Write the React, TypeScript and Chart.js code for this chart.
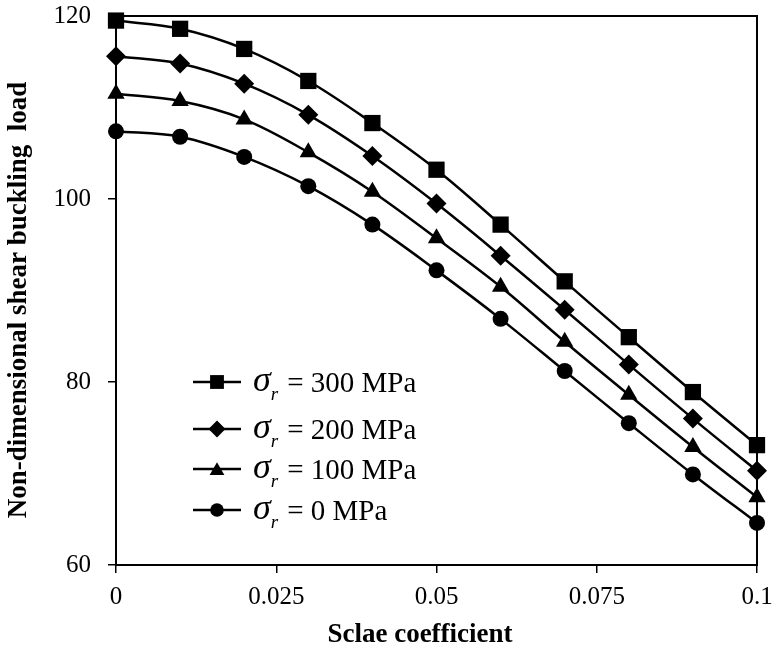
import React, { useEffect, useRef } from "react";
import { Chart, registerables } from "chart.js";

Chart.register(...registerables);

const xValues = [0, 0.01, 0.02, 0.03, 0.04, 0.05, 0.06, 0.07, 0.08, 0.09, 0.1];
const s300 = [119.5, 118.6, 116.4, 112.9, 108.3, 103.2, 97.2, 91.0, 84.9, 78.9, 73.1];
const s200 = [115.6, 114.8, 112.6, 109.2, 104.7, 99.5, 93.8, 87.9, 81.9, 76.0, 70.3];
const s100 = [111.5, 110.7, 108.7, 105.1, 100.8, 95.7, 90.4, 84.4, 78.6, 72.9, 67.4];
const s0 = [107.4, 106.8, 104.6, 101.4, 97.2, 92.2, 86.9, 81.2, 75.5, 69.9, 64.6];

const seriesNames = ["300 MPa", "200 MPa", "100 MPa", "0 MPa"];
const seriesStyles = ["rect", "rectRot", "triangle", "circle"];
const seriesRadius = [11.5, 10, 10, 8];

const xTickValues = [0, 0.025, 0.05, 0.075, 0.1];
const xTickLabels = ["0", "0.025", "0.05", "0.075", "0.1"];
const yTickValues = [60, 80, 100, 120];
const yTickLabels = ["60", "80", "100", "120"];

const xTitle = "Sclae coefficient";
const yTitle = "Non-dimensional shear buckling  load";

const FONT = "'Liberation Serif', 'Times New Roman', serif";

function drawMarker(ctx: CanvasRenderingContext2D, style: string, x: number, y: number, r: number) {
  ctx.beginPath();
  if (style === "rect") {
    const s = Math.SQRT1_2 * r;
    ctx.rect(x - s, y - s, 2 * s, 2 * s);
  } else if (style === "rectRot") {
    ctx.moveTo(x - r, y);
    ctx.lineTo(x, y - r);
    ctx.lineTo(x + r, y);
    ctx.lineTo(x, y + r);
    ctx.closePath();
  } else if (style === "triangle") {
    for (let i = 0; i < 3; i++) {
      const ang = -Math.PI / 2 + (i * 2 * Math.PI) / 3;
      const px = x + Math.cos(ang) * r;
      const py = y + Math.sin(ang) * r + r * 0.2;
      if (i === 0) ctx.moveTo(px, py);
      else ctx.lineTo(px, py);
    }
    ctx.closePath();
  } else {
    ctx.arc(x, y, r, 0, Math.PI * 2);
  }
  ctx.fill();
}

const framePlugin = {
  id: "frame",
  afterDraw(chart: any) {
    const { ctx, chartArea } = chart;
    ctx.save();
    ctx.strokeStyle = "#000";
    ctx.lineWidth = 2;
    ctx.strokeRect(chartArea.left, chartArea.top, chartArea.right - chartArea.left, chartArea.bottom - chartArea.top);
    ctx.restore();
  },
};

const titlesPlugin = {
  id: "axisTitles",
  afterDraw(chart: any) {
    const { ctx } = chart;
    ctx.save();
    ctx.fillStyle = "#000";
    ctx.font = `bold 27px ${FONT}`;
    ctx.textAlign = "center";
    ctx.textBaseline = "middle";
    ctx.fillText(xTitle, 420, 635);
    ctx.translate(19, 300);
    ctx.rotate(-Math.PI / 2);
    ctx.fillText(yTitle, 0, 0);
    ctx.restore();
  },
};

const legendPlugin = {
  id: "customLegend",
  afterDraw(chart: any) {
    const { ctx, chartArea } = chart;
    const x0 = chartArea.left + 77;
    const rowY = [382, 429, 469, 510];
    ctx.save();
    seriesNames.forEach((name, i) => {
      const y = rowY[i];
      ctx.strokeStyle = "#000";
      ctx.fillStyle = "#000";
      ctx.lineWidth = 2.5;
      ctx.beginPath();
      ctx.moveTo(x0, y);
      ctx.lineTo(x0 + 48, y);
      ctx.stroke();
      drawMarker(ctx, seriesStyles[i], x0 + 24, y, seriesRadius[i] * 0.85);
      let tx = x0 + 60;
      ctx.textBaseline = "alphabetic";
      ctx.textAlign = "left";
      ctx.font = `italic 36px ${FONT}`;
      ctx.fillText("σ", tx, y + 9);
      tx += ctx.measureText("σ").width;
      ctx.font = `italic 19px ${FONT}`;
      ctx.fillText("r", tx, y + 18);
      tx += ctx.measureText("r").width + 9;
      ctx.font = `29px ${FONT}`;
      ctx.fillText("= " + name, tx, y + 10);
    });
    ctx.restore();
  },
};

export default function App() {
  const ref = useRef<HTMLCanvasElement | null>(null);
  useEffect(() => {
    document.body.style.margin = "0";
    const canvas = ref.current!;
    const datasets = [s300, s200, s100, s0].map((vals, i) => ({
      label: seriesNames[i],
      data: xValues.map((x, j) => ({ x, y: vals[j] })),
      borderColor: "#000",
      backgroundColor: "#000",
      borderWidth: 2.5,
      pointStyle: seriesStyles[i] as any,
      pointRadius: seriesRadius[i],
      pointBackgroundColor: "#000",
      pointBorderColor: "#000",
      pointBorderWidth: 0,
      tension: 0.35,
      fill: false,
      clip: false as any,
    }));
    const chart = new Chart(canvas, {
      type: "line",
      data: { datasets },
      plugins: [framePlugin, legendPlugin, titlesPlugin],
      options: {
        responsive: false,
        animation: false,
        layout: { padding: { top: 16, right: 18, left: 0, bottom: 0 } },
        plugins: { legend: { display: false }, tooltip: { enabled: false } },
        scales: {
          x: {
            type: "linear",
            min: 0,
            max: 0.1,
            afterFit: (s: any) => {
              s.height = 90;
              s.paddingLeft = 0;
              s.paddingRight = 0;
            },
            afterBuildTicks: (s: any) => {
              s.ticks = xTickValues.map((v) => ({ value: v }));
            },
            ticks: {
              color: "#000",
              font: { family: FONT, size: 25 },
              padding: 9,
              maxRotation: 0,
              autoSkip: false,
              callback: (v: any) => {
                const idx = xTickValues.findIndex((t) => Math.abs(t - v) < 1e-9);
                return idx >= 0 ? xTickLabels[idx] : "";
              },
            },
            grid: { drawOnChartArea: false, drawTicks: true, tickLength: 8, color: "#000", lineWidth: 1.5 },
            border: { color: "#000", width: 2 },
          },
          y: {
            type: "linear",
            min: 60,
            max: 120,
            afterFit: (s: any) => {
              s.width = 116;
              s.paddingTop = 0;
              s.paddingBottom = 0;
            },
            afterBuildTicks: (s: any) => {
              s.ticks = yTickValues.map((v) => ({ value: v }));
            },
            ticks: {
              color: "#000",
              font: { family: FONT, size: 25 },
              padding: 17,
              autoSkip: false,
              callback: (v: any) => {
                const idx = yTickValues.findIndex((t) => Math.abs(t - v) < 1e-9);
                return idx >= 0 ? yTickLabels[idx] : "";
              },
            },
            grid: { drawOnChartArea: false, drawTicks: true, tickLength: 8, color: "#000", lineWidth: 1.5 },
            border: { color: "#000", width: 2 },
          },
        },
      },
    });
    return () => chart.destroy();
  }, []);
  return (
    <div style={{ width: 775, height: 655 }}>
      <canvas ref={ref} width={775} height={655} />
    </div>
  );
}
